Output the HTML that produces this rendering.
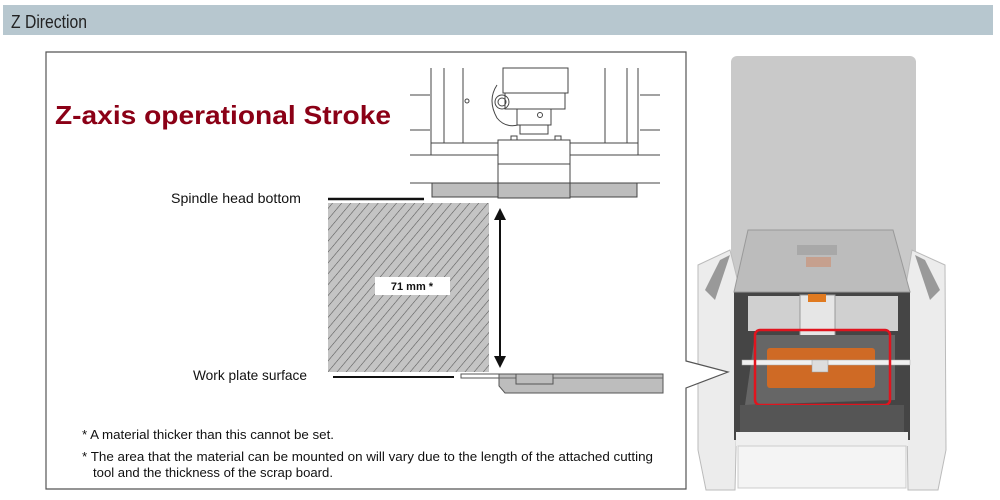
<!DOCTYPE html>
<html><head><meta charset="utf-8"><style>
html,body{margin:0;padding:0;background:#fff;width:1000px;height:500px;overflow:hidden}
svg{display:block}
text{font-family:"Liberation Sans",sans-serif}
</style></head><body>
<svg width="1000" height="500" viewBox="0 0 1000 500" xmlns="http://www.w3.org/2000/svg">
<defs>
<pattern id="h" width="7" height="7" patternUnits="userSpaceOnUse" patternTransform="rotate(40)">
<rect width="7" height="7" fill="#c4c4c4"/><line x1="0" y1="0" x2="0" y2="7" stroke="#555" stroke-width="1.1"/>
</pattern>
</defs>
<!-- header -->
<rect x="3" y="5" width="990" height="30" fill="#b7c7cf"/>
<text x="11" y="28" font-size="18" fill="#222" textLength="76" lengthAdjust="spacingAndGlyphs">Z Direction</text>
<!-- machine photo -->
<rect x="731" y="56" width="185" height="240" rx="6" fill="#c9c9c9"/>
<path d="M698 265 L730 250 L740 290 L735 490 L706 490 L698 450 Z" fill="#ececec" stroke="#bbb"/>
<path d="M945 265 L912 250 L905 290 L908 490 L938 490 L946 450 Z" fill="#ececec" stroke="#bbb"/>
<path d="M705 290 L720 260 L730 255 L715 300 Z" fill="#999"/>
<path d="M940 290 L925 260 L915 255 L930 300 Z" fill="#999"/>
<rect x="734" y="290" width="176" height="150" fill="#454545"/>
<path d="M748 230 L893 230 L910 292 L734 292 Z" fill="#bcbcbc" stroke="#999"/>
<rect x="797" y="245" width="40" height="10" fill="#a8a8a8"/>
<rect x="806" y="257" width="25" height="10" fill="#c6a08e"/>
<rect x="748" y="296" width="150" height="35" fill="#d0d0d0"/>
<rect x="800" y="295" width="35" height="60" fill="#e6e6e6" stroke="#999"/>
<rect x="808" y="294" width="18" height="8" fill="#e07a20"/>
<path d="M755 335 L895 335 L895 400 L745 405 Z" fill="#666"/>
<rect x="767" y="348" width="108" height="40" rx="3" fill="#cf6a25"/>
<rect x="742" y="360" width="168" height="5" fill="#f0f0f0" stroke="#aaa" stroke-width="0.5"/>
<rect x="812" y="360" width="16" height="12" fill="#ddd" stroke="#999" stroke-width="0.5"/>
<rect x="755" y="330" width="135" height="75" rx="5" fill="none" stroke="#e0141e" stroke-width="2.5"/>
<rect x="740" y="405" width="164" height="27" fill="#555"/>
<rect x="736" y="432" width="172" height="14" fill="#efefef"/>
<rect x="738" y="446" width="168" height="42" fill="#f4f4f4" stroke="#ccc"/>
<!-- callout box -->
<path d="M686 361 L686 52 L46 52 L46 489 L686 489 L686 388 L728 372 Z" fill="#fff" stroke="#555" stroke-width="1.2"/>
<text x="55" y="124" font-size="26" font-weight="bold" fill="#8b0016" textLength="336" lengthAdjust="spacingAndGlyphs">Z-axis operational Stroke</text>
<!-- machine top -->
<g stroke="#444" stroke-width="1" fill="none">
<line x1="410" y1="95" x2="430" y2="95"/><line x1="410" y1="130" x2="430" y2="130"/>
<line x1="410" y1="155" x2="660" y2="155"/><line x1="410" y1="183" x2="660" y2="183"/>
<line x1="640" y1="95" x2="660" y2="95"/><line x1="640" y1="130" x2="660" y2="130"/>
<line x1="431" y1="68" x2="431" y2="143"/><line x1="444" y1="68" x2="444" y2="143"/>
<line x1="463" y1="68" x2="463" y2="143"/>
<line x1="605" y1="68" x2="605" y2="143"/><line x1="627" y1="68" x2="627" y2="143"/><line x1="638" y1="68" x2="638" y2="143"/>
<rect x="431" y="143" width="207" height="12" fill="#fff"/>
<rect x="432" y="183" width="205" height="14" fill="#bdbdbd"/>
<rect x="498" y="140" width="72" height="58" fill="#fff"/>
<rect x="498" y="183" width="72" height="15" fill="#bdbdbd"/>
<line x1="498" y1="164" x2="570" y2="164"/>
<rect x="503" y="68" width="65" height="25"/>
<rect x="505" y="93" width="60" height="16"/>
<rect x="517" y="109" width="34" height="16"/>
<rect x="520" y="125" width="28" height="9"/>
<circle cx="502" cy="102" r="7"/><circle cx="502" cy="102" r="4"/>
<path d="M497 85 Q487 100 497 118 Q505 128 518 125"/>
<circle cx="540" cy="115" r="2.5"/><circle cx="467" cy="101" r="2"/>
<rect x="511" y="136" width="6" height="4"/><rect x="555" y="136" width="6" height="4"/>
</g>
<!-- labels & lines -->
<text x="171" y="203" font-size="14" fill="#111" textLength="130" lengthAdjust="spacingAndGlyphs">Spindle head bottom</text>
<line x1="328" y1="199" x2="424" y2="199" stroke="#111" stroke-width="2.5"/>
<rect x="328" y="203" width="161" height="169" fill="url(#h)"/>
<rect x="375" y="277" width="75" height="18" fill="#fff"/>
<text x="412" y="290" font-size="11" font-weight="bold" text-anchor="middle" fill="#111">71 mm *</text>
<line x1="500" y1="218" x2="500" y2="358" stroke="#111" stroke-width="2"/>
<path d="M500 208 L494 220 L506 220 Z" fill="#111"/>
<path d="M500 368 L494 356 L506 356 Z" fill="#111"/>
<text x="193" y="380" font-size="14" fill="#111" textLength="114" lengthAdjust="spacingAndGlyphs">Work plate surface</text>
<line x1="333" y1="377" x2="454" y2="377" stroke="#111" stroke-width="2"/>
<!-- work plate -->
<path d="M461 374 L499 374 L499 378 L461 378 Z" fill="#fff" stroke="#555"/>
<path d="M499 374 L663 374 L663 393 L505 393 L499 386 Z" fill="#bdbdbd" stroke="#555"/>
<line x1="499" y1="378" x2="663" y2="378" stroke="#666"/>
<rect x="516" y="374" width="37" height="10" fill="#bdbdbd" stroke="#555"/>
<!-- footnotes -->
<text x="82" y="439" font-size="13" fill="#111" textLength="252" lengthAdjust="spacingAndGlyphs">* A material thicker than this cannot be set.</text>
<text x="82" y="461" font-size="13" fill="#111" textLength="571" lengthAdjust="spacingAndGlyphs">* The area that the material can be mounted on will vary due to the length of the attached cutting</text>
<text x="93" y="477" font-size="13" fill="#111" textLength="240" lengthAdjust="spacingAndGlyphs">tool and the thickness of the scrap board.</text>
</svg>
</body></html>
